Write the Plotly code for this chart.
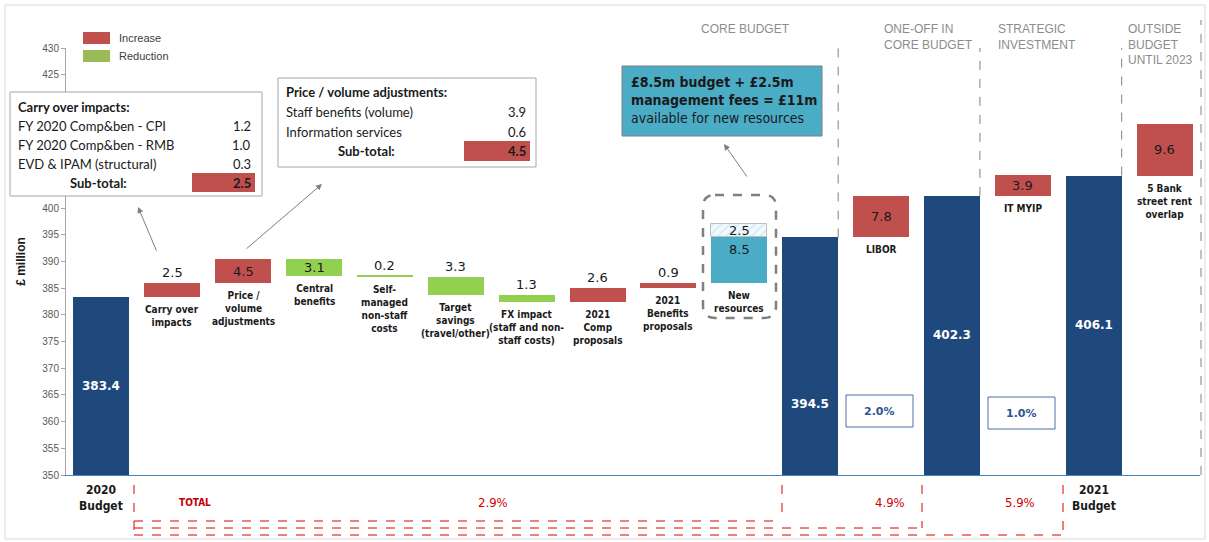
import plotly.graph_objects as go

# ---------------- data ----------------
categories = ["2020 Budget", "Carry over impacts", "Price / volume adjustments", "Central benefits",
              "Self-managed non-staff costs", "Target savings (travel/other)",
              "FX impact (staff and non-staff costs)", "2021 Comp proposals", "2021 Benefits proposals",
              "New resources", "Core budget", "LIBOR", "One-off in core budget", "IT MYIP",
              "2021 Budget", "5 Bank street rent overlap"]
cat_labels = ["", "Carry over<br>impacts", "Price /<br>volume<br>adjustments", "Central<br>benefits",
              "Self-<br>managed<br>non-staff<br>costs", "Target<br>savings<br>(travel/other)",
              "FX impact<br>(staff and non-<br>staff costs)", "2021<br>Comp<br>proposals",
              "2021<br>Benefits<br>proposals", "New<br>resources", "", "LIBOR", "", "IT MYIP", "",
              "5 Bank<br>street rent<br>overlap"]
values = [383.4, 2.5, 4.5, -3.1, -0.2, -3.3, -1.3, 2.6, 0.9, 8.5, 394.5, 7.8, 402.3, 3.9, 406.1, 9.6]
kinds = ["total", "inc", "inc", "red", "red", "red", "red", "inc", "inc", "new",
         "total", "inc", "total", "inc", "total", "inc"]
management_fees = 2.5

carry_items = ["FY 2020 Comp&ben - CPI", "FY 2020 Comp&ben - RMB", "EVD & IPAM (structural)"]
carry_values = [1.2, 1.0, 0.3]
price_items = ["Staff benefits (volume)", "Information services"]
price_values = [3.9, 0.6]

header_texts = ["CORE BUDGET", "ONE-OFF IN<br>CORE BUDGET", "STRATEGIC<br>INVESTMENT", "OUTSIDE<br>BUDGET<br>UNTIL 2023"]
# ticks visible in the reference (405-420 sit behind the carry-over box)
y_ticks = [350, 355, 360, 365, 370, 375, 380, 385, 390, 395, 400, 425, 430]

# ---------------- styles ----------------
BLUE = "#1F497D"
RED = "#C0504D"
GREEN = "#92D050"
TEAL = "#4BACC6"
GREY = "#8C8C8C"
DRED = "#E00000"
TXT = "#1A1A1A"
VAL_FONT = "DejaVu Sans"
CAT_FONT = "Liberation Sans Narrow, DejaVu Sans Condensed, Arial, sans-serif"
BOX_FONT = "Lato, Liberation Sans, sans-serif"

PL, PR, PT, PB = 66, 1200, 48, 475
def fx(px):
    return (px - PL) / (PR - PL)
def fy(py):
    return (PB - py) / (PB - PT)

ann = []
shapes = []

def note(px, py, text, family=BOX_FONT, size=13, color=TXT, xanchor="center", yanchor="middle", align="center"):
    ann.append(dict(x=fx(px), y=fy(py), xref="paper", yref="paper", text=text, showarrow=False,
                    xanchor=xanchor, yanchor=yanchor, align=align,
                    font=dict(family=family, size=size, color=color)))

def prect(x0, y0, x1, y1, fill=None, line_color=None, width=1, layer="above"):
    shapes.append(dict(type="rect", xref="paper", yref="paper", x0=fx(x0), x1=fx(x1), y0=fy(y1), y1=fy(y0),
                       fillcolor=fill if fill else "rgba(0,0,0,0)",
                       line=dict(color=line_color if line_color else "rgba(0,0,0,0)", width=width if line_color else 0),
                       layer=layer))

def pline(x0, y0, x1, y1, color, width=1, dash="dash"):
    shapes.append(dict(type="line", xref="paper", yref="paper", x0=fx(x0), x1=fx(x1), y0=fy(y0), y1=fy(y1),
                       line=dict(color=color, width=width, dash=dash)))

# ---------------- waterfall geometry ----------------
bases, heights, colors = [], [], []
running = 0.0
for v, k in zip(values, kinds):
    if k == "total":
        bases.append(350.0)
        heights.append(v - 350.0)
        colors.append(BLUE)
        running = v
    else:
        lo = min(running, running + v)
        bases.append(lo)
        heights.append(abs(v))
        colors.append(GREEN if k == "red" else (TEAL if k == "new" else RED))
        running = running + v

xs = list(range(len(categories)))
W = 0.79

fig = go.Figure()
fig.add_trace(go.Bar(x=xs, y=heights, base=bases, width=W, marker=dict(color=colors, line=dict(width=0)),
                     hoverinfo="skip", showlegend=False))
ni = kinds.index("new")
fig.add_trace(go.Bar(x=[ni], y=[management_fees], base=[bases[ni] + heights[ni]], width=W,
                     marker=dict(color="#EAF5F9", line=dict(color="#BFBFBF", width=1),
                                 pattern=dict(shape="/", fgcolor="#A9D6E5", bgcolor="#F2F9FC", size=6, solidity=0.2)),
                     hoverinfo="skip", showlegend=False))

# value labels
val_pos = ["mid", "above", "mid", "mid", "above", "above", "above", "above", "above", "top",
           "low", "mid", "mid", "mid", "mid", "mid"]
for i, (v, k) in enumerate(zip(values, kinds)):
    top = bases[i] + heights[i]
    txt = f"{abs(v):.1f}"
    pos = val_pos[i]
    if k == "total":
        yv = bases[i] + heights[i] / 2 if pos == "mid" else 350 + heights[i] * 0.3
        ann.append(dict(x=i, y=yv, text=f"<b>{txt}</b>", showarrow=False, xref="x", yref="y",
                        xanchor="center", yanchor="middle",
                        font=dict(family=VAL_FONT, size=12, color="white")))
    elif pos == "mid":
        ann.append(dict(x=i, y=bases[i] + heights[i] / 2, text=txt, showarrow=False, xref="x", yref="y",
                        xanchor="center", yanchor="middle",
                        font=dict(family=VAL_FONT, size=13, color=TXT)))
    elif pos == "above":
        ann.append(dict(x=i, y=top, text=txt, showarrow=False, xref="x", yref="y", xanchor="center",
                        yanchor="bottom", yshift=1, font=dict(family=VAL_FONT, size=13, color=TXT)))
    elif pos == "top":
        ann.append(dict(x=i, y=top, text=txt, showarrow=False, xref="x", yref="y", xanchor="center",
                        yanchor="top", yshift=-3, font=dict(family=VAL_FONT, size=13, color=TXT)))
ann.append(dict(x=ni, y=bases[ni] + heights[ni] + management_fees / 2, text=f"{management_fees:.1f}",
                showarrow=False, xref="x", yref="y", xanchor="center", yanchor="middle",
                font=dict(family=VAL_FONT, size=13, color=TXT)))

# category labels below the floating bars
for i, lab in enumerate(cat_labels):
    if lab:
        ann.append(dict(x=i, y=bases[i], text=f"<b>{lab}</b>", showarrow=False, xref="x", yref="y",
                        xanchor="center", yanchor="top", yshift=-5,
                        font=dict(family=CAT_FONT, size=10, color=TXT)))

# bottom budget labels
for i in [0, kinds.index("total", 13)]:
    ann.append(dict(x=i, y=fy(481), text="<b>" + categories[i].replace(" ", "<br>") + "</b>", showarrow=False,
                    xref="x", yref="paper", xanchor="center", yanchor="top",
                    font=dict(family=CAT_FONT, size=12, color=TXT)))

# legend (manual)
for yy, col, name in [(38, RED, "Increase"), (56, "#9BBB59", "Reduction")]:
    prect(83, yy - 6, 110, yy + 6, fill=col)
    note(117, yy, name, family="Liberation Sans, sans-serif", size=11, color="#404040", xanchor="left")

# carry over box
prect(10, 92, 262, 196, fill="white", line_color="#A6A6A6")
prect(192, 173, 255, 192, fill=RED)
note(16, 107, "<b>Carry over impacts:</b>", xanchor="left")
for j, (it, v) in enumerate(zip(carry_items, carry_values)):
    yy = 126 + j * 19
    note(16, yy, it, xanchor="left")
    note(253, yy, f"{v:.1f}", xanchor="right")
note(98, 183, "<b>Sub-total:</b>")
note(253, 183, f"<b>{sum(carry_values):.1f}</b>", xanchor="right")

# price / volume box
prect(278, 78, 536, 167, fill="white", line_color="#A6A6A6")
prect(464, 141, 530, 161, fill=RED)
note(284, 92, "<b>Price / volume adjustments:</b>", xanchor="left")
for j, (it, v) in enumerate(zip(price_items, price_values)):
    yy = 112 + j * 19.5
    note(284, yy, it, xanchor="left")
    note(528, yy, f"{v:.1f}", xanchor="right")
note(366, 151, "<b>Sub-total:</b>")
note(528, 151, f"<b>{sum(price_values):.1f}</b>", xanchor="right")

# teal callout box
prect(622, 66, 822, 136, fill=TEAL, line_color="#7F7F7F")
nr_budget = values[ni]
note(629, 100, f"<b>£{nr_budget:.1f}m budget + £{management_fees:.1f}m<br>management fees = £{nr_budget + management_fees:.0f}m</b><br>available for new resources",
     family="DejaVu Sans Condensed, DejaVu Sans, sans-serif", size=14, xanchor="left", align="left")

# arrows (tail offsets in pixels)
for (tx, ty, hx, hy) in [(157, 252, 138, 207), (245, 250, 322, 184), (748, 178, 724, 144)]:
    ann.append(dict(x=fx(hx), y=fy(hy), ax=tx - hx, ay=ty - hy, xref="paper", yref="paper",
                    showarrow=True, arrowhead=2, arrowsize=1.2, arrowwidth=1, arrowcolor="#7F7F7F", text=""))

# dashed rounded rectangle around new resources
x0, x1, y0, y1, r = 703, 776, 195, 318, 12
rx, ry = r / (PR - PL), r / (PB - PT)
X0, X1, Y0, Y1 = fx(x0), fx(x1), fy(y1), fy(y0)
path = (f"M {X0 + rx},{Y1} L {X1 - rx},{Y1} Q {X1},{Y1} {X1},{Y1 - ry} L {X1},{Y0 + ry} "
        f"Q {X1},{Y0} {X1 - rx},{Y0} L {X0 + rx},{Y0} Q {X0},{Y0} {X0},{Y0 + ry} L {X0},{Y1 - ry} "
        f"Q {X0},{Y1} {X0 + rx},{Y1} Z")
shapes.append(dict(type="path", path=path, xref="paper", yref="paper",
                   line=dict(color="#808080", width=2.5, dash="dash")))

# vertical dashed separators (from top of right-hand blue bars)
total_idx = [i for i, k in enumerate(kinds) if k == "total"][1:]
for i in total_idx:
    shapes.append(dict(type="line", xref="x", yref="y", x0=i + W / 2, x1=i + W / 2, y0=values[i], y1=350 + 80 * fy(20),
                       line=dict(color="#808080", width=1, dash="dash")))
pline(1201, 475, 1201, 20, "#808080")

# headers
hdr_pos = [(745, "center"), (882, "left"), (996, "left"), (1126, "left")]
for t, (hx, al) in zip(header_texts, hdr_pos):
    ann.append(dict(x=fx(hx), y=fy(20), text=t, showarrow=False, xref="paper", yref="paper", xanchor=al,
                    yanchor="top", align="left", font=dict(family="Liberation Sans, sans-serif", size=12, color=GREY)))

# percent boxes
base_budget = values[0]
for i, (bx0, by0) in zip([kinds.index("inc", 10), kinds.index("inc", 12)], [(846, 395), (988, 397)]):
    prect(bx0, by0, bx0 + 67, by0 + 32, fill="white", line_color="#4A6FA5")
    note(bx0 + 33.5, by0 + 16, f"<b>{values[i] / base_budget * 100:.1f}%</b>",
         family="DejaVu Sans, sans-serif", size=11, color="#2F5597")

# bottom TOTAL brackets
pline(134, 485, 134, 535, DRED)
for (bx, by) in [(782, 521), (922, 528), (1063, 535)]:
    pline(bx, 485, bx, by, DRED)
    pline(134, by, bx, by, DRED)
note(195, 502, "<b>TOTAL</b>", family=CAT_FONT, size=10, color="#C00000")
for i, px in zip(total_idx, [493, 890, 1020]):
    note(px, 502, f"{(values[i] / base_budget - 1) * 100:.1f}%", family=CAT_FONT, size=13, color="#D00000")

# outer frame
prect(5, 5, 1205, 539, line_color="#D9D9D9", layer="below")

fig.update_layout(
    width=1209, height=542,
    margin=dict(l=PL, r=1209 - PR, t=PT, b=542 - PB),
    paper_bgcolor="white", plot_bgcolor="white",
    barmode="overlay", bargap=0,
    showlegend=False,
    xaxis=dict(range=[-0.5, len(categories) - 0.5], showticklabels=False, showgrid=False, zeroline=False,
               showline=True, linecolor="#4F81BD", linewidth=1, fixedrange=True),
    yaxis=dict(range=[350, 430], tickvals=y_ticks, showgrid=False, zeroline=False, showline=True,
               linecolor="#A6A6A6", linewidth=1, ticks="outside", ticklen=4, tickcolor="#A6A6A6",
               tickfont=dict(family="Liberation Sans, sans-serif", size=10, color="#595959"),
               title=dict(text="<b>£ million</b>", standoff=14,
                          font=dict(family="Liberation Sans, sans-serif", size=12, color=TXT))),
    annotations=ann, shapes=shapes,
)
fig.write_html("out.html", config={"displayModeBar": False},
               post_script="document.body.style.margin='0px';")
